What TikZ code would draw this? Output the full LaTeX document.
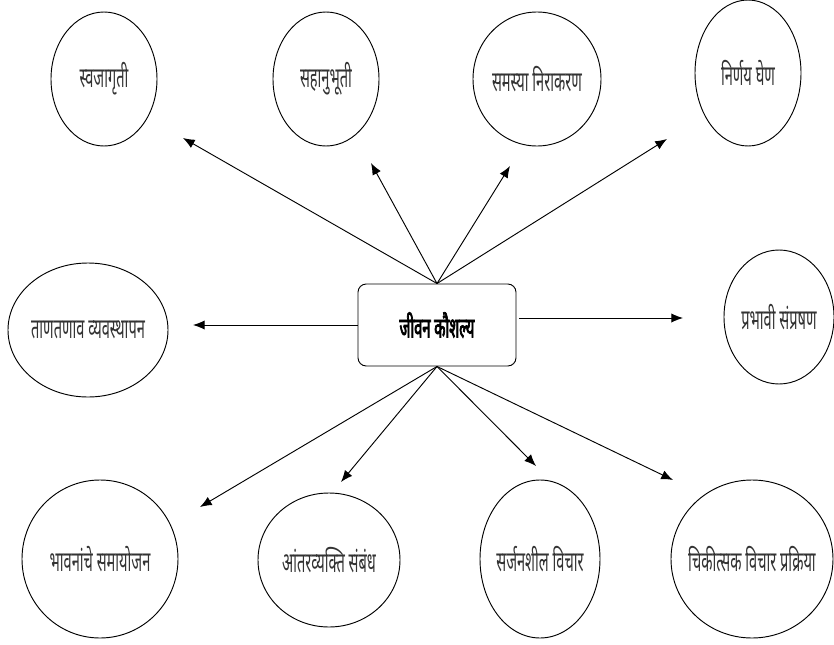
\documentclass[tikz,border=0pt]{standalone}
\usepackage{fontspec}
\setmainfont[Script=Devanagari, FakeStretch=0.52]{Noto Sans}
\newfontfamily\hubfont[Script=Devanagari, FakeStretch=0.52, FakeBold=2.5]{Noto Sans}
\usetikzlibrary{shapes.geometric, arrows.meta}
\tikzset{>={Latex[length=10pt, width=8pt]}}
\tikzset{ % bubbles and hub
  bubble/.style={ellipse, draw, line width=0.8pt, inner sep=0pt,
    text=black!80, font=\fontsize{24}{28}\selectfont},
  hub/.style={draw, rounded corners=7pt, line width=0.8pt,
    minimum width=4.74cm, minimum height=2.46cm,
    font=\hubfont\fontsize{24}{28}\selectfont}
}

\begin{document}
\begin{tikzpicture}[x=0.03cm, y=-0.03cm]
\useasboundingbox (0,0) rectangle (834,645);
\node[hub] (jk) at (437,325) {जीवन कौशल्य};

\node[bubble, minimum width=3.18cm, minimum height=4.02cm] (swa) at (104,79) {\makebox[0pt]{स्वजागृती}};
\node[bubble, minimum width=3.18cm, minimum height=4.02cm] (saha) at (326,79) {\makebox[0pt]{सहानुभूती}};
\node[bubble, minimum width=3.84cm, minimum height=4.02cm] (samasya) at (537,79) {\makebox[0pt]{समस्या निराकरण}};
\node[bubble, minimum width=3.18cm, minimum height=4.38cm] (nirnay) at (748,73) {\makebox[0pt]{निर्णय घेण}};
\node[bubble, minimum width=4.80cm, minimum height=4.02cm] (tan) at (88,330) {\makebox[0pt]{ताणतणाव व्यवस्थापन}};
\node[bubble, minimum width=3.30cm, minimum height=4.02cm] (prabhavi) at (779,317) {\makebox[0pt]{प्रभावी संप्रषण}};
\node[bubble, minimum width=4.68cm, minimum height=4.74cm] (bhavna) at (100,559) {\makebox[0pt]{भावनांचे समायोजन}};
\node[bubble, minimum width=4.26cm, minimum height=4.02cm] (antar) at (329,560) {\makebox[0pt]{आंतरव्यक्ति संबंध}};
\node[bubble, minimum width=3.60cm, minimum height=4.74cm] (sarjan) at (540,559) {\makebox[0pt]{सर्जनशील विचार}};
\node[bubble, minimum width=4.86cm, minimum height=4.74cm] (chikit) at (752,559) {\makebox[0pt]{चिकीत्सक विचार प्रक्रिया}};

\coordinate (swaT) at (183,138);
\coordinate (sahaT) at (371,163);
\coordinate (samasyaT) at (510,166);
\coordinate (nirnayT) at (667,139);
\coordinate (tanT) at (193,325);
\coordinate (prabhaviT) at (683,318);
\coordinate (bhavnaT) at (200,507);
\coordinate (antarT) at (341,482);
\coordinate (sarjanT) at (536,466);
\coordinate (chikitT) at (673,480);

\draw[thick, ->] (jk.north)--(swaT);
\draw[thick, ->] (jk.north)--(sahaT);
\draw[thick, ->] (jk.north)--(samasyaT);
\draw[thick, ->] (jk.north)--(nirnayT);
\draw[thick, ->] (jk.west)--(tanT);
\draw[thick, ->] ([shift={(3,-7)}]jk.east)--(prabhaviT);
\draw[thick, ->] (jk.south)--(bhavnaT);
\draw[thick, ->] (jk.south)--(antarT);
\draw[thick, ->] (jk.south)--(sarjanT);
\draw[thick, ->] (jk.south)--(chikitT);
\end{tikzpicture}
\end{document}
